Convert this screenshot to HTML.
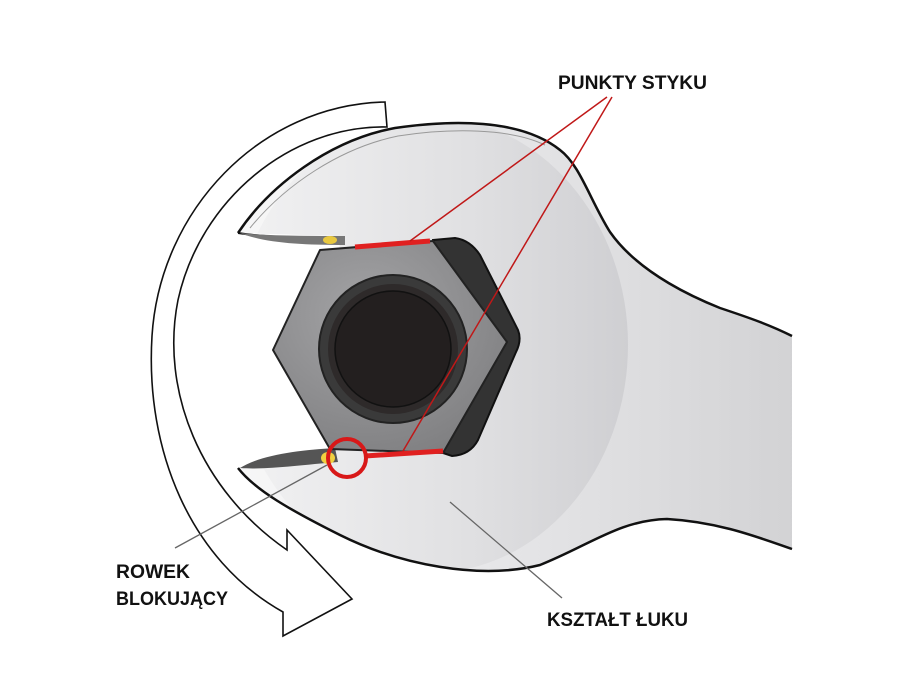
<!DOCTYPE html>
<html><head><meta charset="utf-8"><style>
html,body{margin:0;padding:0;background:#fff;}
svg{display:block;}
text{font-family:"Liberation Sans",sans-serif;font-weight:bold;fill:#111;}
</style></head><body>
<svg width="900" height="675" viewBox="0 0 900 675" xmlns="http://www.w3.org/2000/svg">
<defs>
<linearGradient id="hd" x1="0" y1="0" x2="1" y2="0">
<stop offset="0" stop-color="#f2f2f3"/><stop offset="0.6" stop-color="#e0e0e2"/><stop offset="1" stop-color="#cfcfd2"/>
</linearGradient>
<linearGradient id="hn" x1="0" y1="0" x2="1" y2="0">
<stop offset="0" stop-color="#fafafa"/><stop offset="0.5" stop-color="#e6e6e8"/><stop offset="1" stop-color="#d2d2d4"/>
</linearGradient>
<radialGradient id="nf" cx="0.4" cy="0.35" r="0.7">
<stop offset="0" stop-color="#a4a4a6"/><stop offset="1" stop-color="#808082"/>
</radialGradient>
<clipPath id="wc"><path id="wo" d="M238,233 C270,185 330,140 395,128 C450,120 520,118 560,150 C580,165 590,200 610,232 C640,275 700,300 720,308 C750,318 770,325 792,336 L792,549 C760,538 720,522 667,519 C620,520 590,545 540,565 C480,580 400,565 340,535 C290,510 255,490 238,468 L335,448 L340,236 Z"/></clipPath>
</defs>

<!-- rotation arrow -->
<path d="M385,102 L387,127 C290,125 200,200 178,300 C160,390 200,490 287,550 L287,530 L352,599 L283,636 L283,612 C190,560 145,450 152,336 C160,210 260,105 385,102 Z" fill="#fff" stroke="#111" stroke-width="1.6"/>

<!-- wrench body -->
<g clip-path="url(#wc)">
<rect x="200" y="100" width="600" height="500" fill="url(#hn)"/>
<ellipse cx="430" cy="345" rx="198" ry="228" fill="url(#hd)"/>
</g>
<path d="M238,233 C270,185 330,140 395,128 C450,120 520,118 560,150 C580,165 590,200 610,232 C640,275 700,300 720,308 C750,318 770,325 792,336" fill="none" stroke="#111" stroke-width="2.5"/>
<path d="M792,549 C760,538 720,522 667,519 C620,520 590,545 540,565 C480,580 400,565 340,535 C290,510 255,490 238,468" fill="none" stroke="#111" stroke-width="2.5"/>
<path d="M250,228 C285,185 340,148 398,136 C450,128 510,128 545,145" fill="none" stroke="#999" stroke-width="1"/>
<path d="M238,233 C270,238 310,238 345,238" fill="none" stroke="#111" stroke-width="2"/>
<!-- jaw dark inner strips -->
<path d="M240,468 C260,455 300,450 335,448 L338,462 C300,465 265,470 240,468 Z" fill="#555"/>
<path d="M240,233 C270,236 310,236 345,236 L345,245 C300,245 265,243 240,233 Z" fill="#777"/>
<ellipse cx="328" cy="458" rx="7" ry="6" fill="#f0d040"/>
<ellipse cx="330" cy="240" rx="7" ry="4" fill="#e8c840"/>

<!-- nut dark side -->
<path d="M433,240 L455,238 Q470,240 480,255 L518,330 Q522,340 516,352 L478,440 Q470,455 452,456 L443,453 Z" fill="#333" stroke="#111" stroke-width="2"/>
<!-- nut face -->
<path d="M320,250 L433,241 L507,342 L443,453 L330,449 L273,350 Z" fill="url(#nf)" stroke="#222" stroke-width="2" stroke-linejoin="round"/>
<circle cx="393" cy="349" r="74" fill="#3a3a3a" stroke="#222" stroke-width="2"/>
<circle cx="393" cy="349" r="65" fill="#2e2a2a"/>
<circle cx="393" cy="349" r="58" fill="#231f1f" stroke="#111" stroke-width="1.5"/>

<!-- contact highlights -->
<line x1="355" y1="247" x2="430" y2="241" stroke="#e02020" stroke-width="5"/>
<line x1="365" y1="456" x2="443" y2="451" stroke="#e02020" stroke-width="5"/>
<circle cx="347" cy="458" r="19" fill="none" stroke="#d81818" stroke-width="4"/>

<!-- leader lines -->
<line x1="607" y1="97" x2="410" y2="241" stroke="#c01818" stroke-width="1.5"/>
<line x1="612" y1="97" x2="403" y2="451" stroke="#c01818" stroke-width="1.5"/>
<line x1="175" y1="548" x2="327" y2="465" stroke="#666" stroke-width="1.3"/>
<line x1="450" y1="502" x2="562" y2="598" stroke="#666" stroke-width="1.3"/>

<text x="558" y="89" font-size="19" textLength="149" lengthAdjust="spacingAndGlyphs">PUNKTY STYKU</text>
<text x="116" y="578" font-size="19" textLength="74" lengthAdjust="spacingAndGlyphs">ROWEK</text>
<text x="116" y="605" font-size="19" textLength="112" lengthAdjust="spacingAndGlyphs">BLOKUJĄCY</text>
<text x="547" y="626" font-size="19" textLength="141" lengthAdjust="spacingAndGlyphs">KSZTAŁT ŁUKU</text>
</svg>
</body></html>
